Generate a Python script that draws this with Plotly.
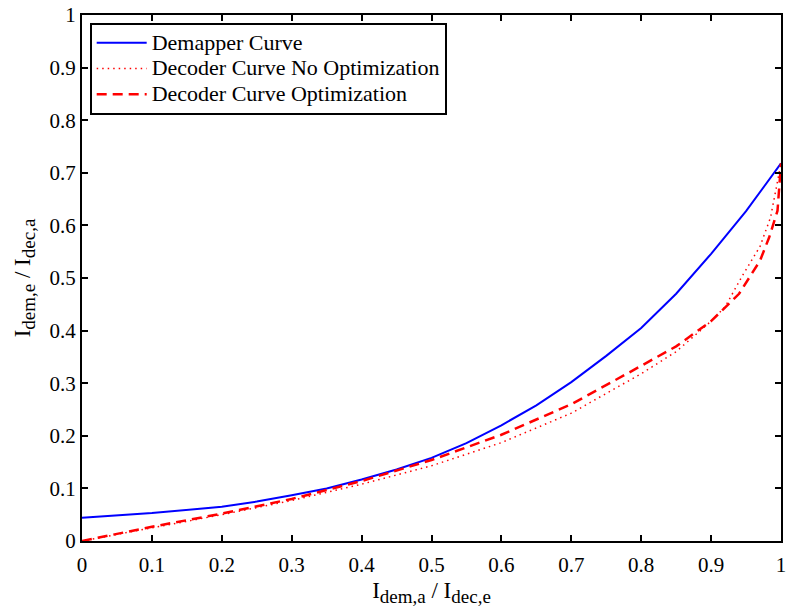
import plotly.graph_objects as go

x_dem = [0, 0.1, 0.2, 0.25, 0.3, 0.35, 0.4, 0.45, 0.5, 0.55, 0.6, 0.65, 0.7, 0.75, 0.8, 0.85, 0.9, 0.95, 1.0]
y_dem = [0.044, 0.053, 0.065, 0.075, 0.087, 0.1, 0.117, 0.136, 0.158, 0.186, 0.22, 0.258, 0.302, 0.352, 0.405, 0.47, 0.546, 0.627, 0.718]

x_noopt = [0, 0.1, 0.2, 0.3, 0.4, 0.5, 0.6, 0.7, 0.8, 0.85, 0.9, 0.92, 0.945, 0.97, 0.985, 1.0]
y_noopt = [0, 0.025, 0.05, 0.077, 0.108, 0.143, 0.187, 0.243, 0.318, 0.36, 0.418, 0.445, 0.505, 0.56, 0.615, 0.718]

x_opt = [0, 0.1, 0.2, 0.3, 0.4, 0.5, 0.6, 0.7, 0.8, 0.85, 0.9, 0.94, 0.97, 0.983, 0.995, 1.0]
y_opt = [0, 0.027, 0.052, 0.08, 0.114, 0.154, 0.202, 0.26, 0.333, 0.37, 0.418, 0.47, 0.533, 0.577, 0.628, 0.718]

series_names = ["Demapper Curve", "Decoder Curve No Optimization", "Decoder Curve Optimization"]

tick_vals = [0, 0.1, 0.2, 0.3, 0.4, 0.5, 0.6, 0.7, 0.8, 0.9, 1]
tick_text = ["0", "0.1", "0.2", "0.3", "0.4", "0.5", "0.6", "0.7", "0.8", "0.9", "1"]

font = "Liberation Serif"


def leg(name):
    return '<span style="font-size:22px">' + name + '</span>'


fig = go.Figure()
fig.add_trace(go.Scatter(x=x_dem, y=y_dem, mode="lines", name=leg(series_names[0]),
                         line=dict(color="#0000ff", width=2)))
fig.add_trace(go.Scatter(x=x_noopt, y=y_noopt, mode="lines", name=leg(series_names[1]),
                         line=dict(color="#ff0000", width=1.5, dash="1.5px,4px")))
fig.add_trace(go.Scatter(x=x_opt, y=y_opt, mode="lines", name=leg(series_names[2]),
                         line=dict(color="#ff0000", width=2.5, dash="10px,6px")))

axis_common = dict(showgrid=False, zeroline=False, showline=True, linecolor="black", linewidth=2,
                   mirror="ticks", ticks="inside", ticklen=6, tickwidth=2, tickcolor="black",
                   tickfont=dict(family=font, size=21, color="black"), range=[0, 1],
                   tickmode="array", tickvals=tick_vals, ticktext=tick_text, tickangle=0,
                   ticklabeloverflow="allow")

sub = '<sub><span style="font-size:19px">{}</span></sub>'
xtitle = "I" + sub.format("dem,a") + " / I" + sub.format("dec,e")
ytitle = "I" + sub.format("dem,e") + " / I" + sub.format("dec,a")

fig.update_layout(
    width=789, height=608,
    margin=dict(l=82, r=3, t=14, b=67),
    paper_bgcolor="white", plot_bgcolor="white",
    font=dict(family=font, color="black"),
    xaxis=dict(**axis_common, ticklabelstandoff=4,
               title=dict(text=xtitle, font=dict(family=font, size=23, color="black"), standoff=6)),
    yaxis=dict(**axis_common,
               title=dict(text=ytitle, font=dict(family=font, size=23, color="black"), standoff=12)),
    legend=dict(x=0.011, y=0.985, xanchor="left", yanchor="top", bgcolor="white",
                bordercolor="black", borderwidth=2, itemwidth=50,
                font=dict(family=font, size=17.5, color="black"), tracegroupgap=0),
    showlegend=True,
)

fig.write_html("out.html")
